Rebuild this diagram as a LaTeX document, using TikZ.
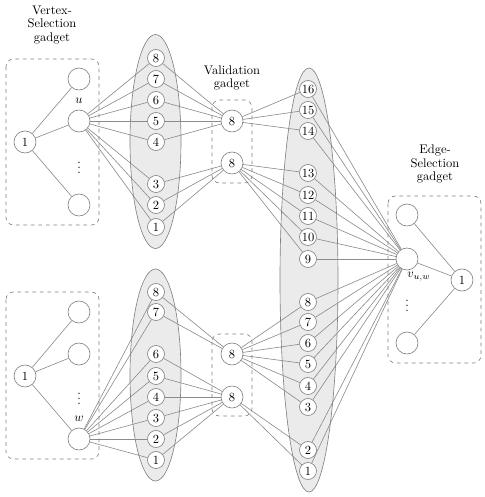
\documentclass[tikz,border=0pt]{standalone}
\pgfdeclarelayer{groups}
\pgfdeclarelayer{links}
\pgfsetlayers{groups,links,main}
\begin{document}
\begin{tikzpicture}[x=0.8pt,y=-0.8pt,
  lc/.style={draw=black!45, line width=0.5pt},
  bignode/.style={circle, draw=black!50, fill=white, line width=0.5pt, minimum size=17.6pt, inner sep=0pt},
  smallnode/.style={circle, draw=black!50, fill=white, line width=0.5pt, minimum size=13.6pt, inner sep=0pt},
  group/.style={draw=black!50, fill=black!8, line width=0.5pt},
  gadget/.style={draw=black!50, dashed, rounded corners=6pt, line width=0.5pt},
  tag/.style={inner sep=0pt},
  caption/.style={align=center, inner sep=0pt, font=\normalsize}]
\useasboundingbox (0,0) rectangle (485,497);

% shaded groups
\begin{pgfonlayer}{groups}
\draw[group] (155.5,141.5) ellipse [x radius=20.4pt, y radius=85.6pt];
\draw[group] (155.5,375) ellipse [x radius=20.4pt, y radius=84.8pt];
\draw[group] (309,280) ellipse [x radius=23.2pt, y radius=169.6pt];
\end{pgfonlayer}

% gadget frames
\draw[gadget] (6,59) rectangle (99,225);
\draw[gadget] (6,292) rectangle (99,459);
\draw[gadget] (212,100) rectangle (252,183);
\draw[gadget] (212,334) rectangle (252,416);
\draw[gadget] (388,196) rectangle (481,363);

% captions
\node[caption] (capVS) at (52,25) {Vertex-\\[-1pt]Selection\\[-1pt]gadget};
\node[caption] (capV) at (232,78) {Validation\\[-1pt]gadget};
\node[caption] (capES) at (435,164) {Edge-\\[-1pt]Selection\\[-1pt]gadget};

% upper vertex-selection gadget
\node[bignode] (a1) at (25,142) {1};
\node[bignode] (at) at (79,79) {};
\node[bignode] (u) at (79,121) {};
\node[bignode] (ab) at (79,205) {};
\node[tag] (ul) at (79,101) {$u$};
\node[tag] (ad) at (79,164) {$\vdots$};

% upper middle group
\foreach \n/\y in {8/58,7/79,6/100,5/121,4/142,3/184,2/205,1/227}
  \node[smallnode] (p\n) at (156,\y) {\n};

% upper validation gadget
\node[bignode] (va) at (232,121) {8};
\node[bignode] (vb) at (232,163) {8};

% lower vertex-selection gadget
\node[bignode] (b1) at (25,376) {1};
\node[bignode] (bt) at (79,312) {};
\node[bignode] (bm) at (79,354) {};
\node[bignode] (w) at (79,439) {};
\node[tag] (wl) at (79,419) {$w$};
\node[tag] (bd) at (79,395) {$\vdots$};

% lower middle group
\foreach \n/\y in {8/292,7/312,6/354,5/376,4/397,3/418,2/439,1/460}
  \node[smallnode] (q\n) at (156,\y) {\n};

% lower validation gadget
\node[bignode] (vc) at (232,354) {8};
\node[bignode] (vd) at (232,397) {8};

% large group
\foreach \n/\y in {16/89,15/110,14/131,13/173,12/195,11/216,10/237,9/259,8/302,7/322,6/343,5/364,4/386,3/407,2/450,1/471}
  \node[smallnode] (r\n) at (308,\y) {\n};

% edge-selection gadget
\node[bignode] (et) at (407,215) {};
\node[bignode] (v) at (407,259) {};
\node[bignode] (e1) at (462,280) {1};
\node[bignode] (eb) at (407,343) {};
\node[tag] (vl) at (419,277) {$v_{u,w}$};
\node[tag] (ed) at (407,302) {$\vdots$};

% connectors, kept beneath the nodes
\begin{pgfonlayer}{links}
\foreach \t in {at,u,ab} \draw[lc] (a1) -- (\t);
\foreach \n in {1,...,8} \draw[lc] (u) -- (p\n);
\foreach \n in {4,...,8} \draw[lc] (p\n) -- (va);
\foreach \n in {1,2,3} \draw[lc] (p\n) -- (vb);
\foreach \n in {14,15,16} \draw[lc] (va) -- (r\n);
\foreach \n in {9,...,13} \draw[lc] (vb) -- (r\n);

\foreach \t in {bt,bm,w} \draw[lc] (b1) -- (\t);
\foreach \n in {1,...,8} \draw[lc] (w) -- (q\n);
\foreach \n in {7,8} \draw[lc] (q\n) -- (vc);
\foreach \n in {1,...,6} \draw[lc] (q\n) -- (vd);
\foreach \n in {3,...,8} \draw[lc] (vc) -- (r\n);
\foreach \n in {1,2} \draw[lc] (vd) -- (r\n);

\foreach \n in {1,...,16} \draw[lc] (r\n) -- (v);
\foreach \t in {et,v,eb} \draw[lc] (e1) -- (\t);
\end{pgfonlayer}
\end{tikzpicture}
\end{document}
